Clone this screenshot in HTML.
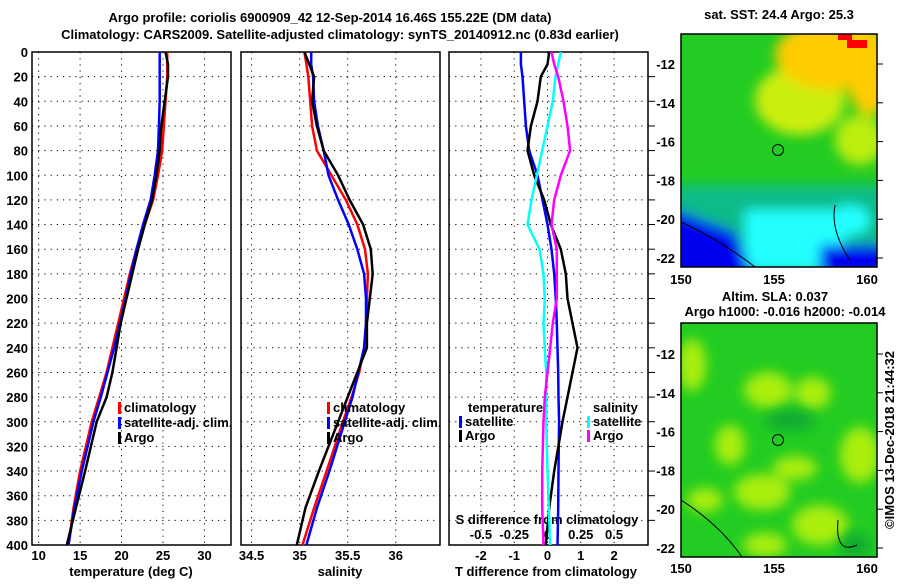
<!DOCTYPE html>
<html><head><meta charset="utf-8"><style>
body{margin:0;background:#fff;width:900px;height:580px;overflow:hidden}
svg text{font-family:"Liberation Sans",sans-serif;font-weight:bold;font-size:13px;fill:#000}
</style></head><body>
<svg id="c" width="900" height="580">
<defs>
<filter id="bl" x="-20%" y="-20%" width="140%" height="140%"><feGaussianBlur stdDeviation="6"/></filter>
<clipPath id="m1c"><rect x="681" y="34" width="196" height="233"/></clipPath>
<clipPath id="m2c"><rect x="681" y="323" width="196" height="234"/></clipPath>
</defs>
<text x="330" y="22" text-anchor="middle" font-size="14">Argo profile: coriolis 6900909_42 12-Sep-2014 16.46S 155.22E (DM data)</text>
<text x="340" y="39" text-anchor="middle" font-size="14">Climatology: CARS2009. Satellite-adjusted climatology: synTS_20140912.nc (0.83d earlier)</text>
<g id="maps">
<g clip-path="url(#m1c)">
<rect x="681" y="34" width="196" height="233" fill="#22cc22"/>
<g filter="url(#bl)">
<ellipse cx="800" cy="100" rx="45" ry="35" fill="#ccee11"/>
<ellipse cx="860" cy="140" rx="25" ry="25" fill="#bbee11"/>
<ellipse cx="835" cy="55" rx="60" ry="35" fill="#ffcc00"/>
<ellipse cx="870" cy="90" rx="20" ry="25" fill="#ffcc00"/>
<rect x="670" y="185" width="220" height="90" fill="#11bb88"/>
<rect x="745" y="210" width="100" height="60" fill="#22ffff"/>
<ellipse cx="850" cy="220" rx="20" ry="15" fill="#22ffff"/>
<polygon points="670,208 735,232 755,280 670,280" fill="#0000ee"/>
<rect x="820" y="245" width="70" height="30" fill="#0000ee"/>
</g>
<rect x="838" y="34" width="14" height="6" fill="#ff0000"/>
<rect x="847" y="40" width="20" height="8" fill="#ff0000"/>
<path d="M681,222 Q720,240 755,267 M835,205 Q830,230 850,260" stroke="#000" fill="none"/>
<circle cx="778" cy="150" r="5.5" fill="none" stroke="#000"/>
</g>
<rect x="681" y="34" width="196" height="233" fill="none" stroke="#000" stroke-width="1.5"/>
<g clip-path="url(#m2c)">
<rect x="681" y="323" width="196" height="234" fill="#22cc22"/>
<g filter="url(#bl)" fill="#aaee11">
<ellipse cx="692" cy="365" rx="14" ry="26"/>
<ellipse cx="768" cy="390" rx="24" ry="18"/>
<ellipse cx="813" cy="393" rx="18" ry="16"/>
<ellipse cx="860" cy="455" rx="20" ry="28"/>
<ellipse cx="762" cy="492" rx="28" ry="18"/>
<ellipse cx="820" cy="525" rx="28" ry="20"/>
<ellipse cx="795" cy="468" rx="22" ry="12"/>
<ellipse cx="765" cy="545" rx="22" ry="12"/>
<ellipse cx="705" cy="500" rx="18" ry="12"/>
<ellipse cx="730" cy="445" rx="15" ry="20"/>
</g>
<g filter="url(#bl)" fill="#11aa33"><ellipse cx="855" cy="545" rx="15" ry="12"/><ellipse cx="790" cy="420" rx="25" ry="10"/></g>
<path d="M681,500 Q720,525 742,557 M838,520 Q835,555 857,545" stroke="#000" fill="none"/>
<circle cx="778" cy="440" r="5.5" fill="none" stroke="#000"/>
</g>
<rect x="681" y="323" width="196" height="234" fill="none" stroke="#000" stroke-width="1.5"/>
<text x="779" y="19" text-anchor="middle" font-size="12">sat. SST: 24.4 Argo: 25.3</text>
<text x="775" y="301" text-anchor="middle" font-size="12">Altim. SLA: 0.037</text>
<text x="785" y="316" text-anchor="middle" font-size="12">Argo h1000: -0.016 h2000: -0.014</text>
<text transform="translate(894,440) rotate(-90)" text-anchor="middle" font-size="12" font-weight="normal">©IMOS 13-Dec-2018 21:44:32</text>
</g>
</svg>
<script>
const depths=[0,10,20,40,60,80,100,120,140,160,180,200,220,240,260,280,300,340,370,400];
const tArgo=[25.3,25.6,25.6,25.2,24.8,24.6,24.2,23.7,22.8,22.0,21.3,20.6,19.9,19.4,18.9,18.2,17.0,15.6,14.5,13.4];
const tClim=[25.5,25.5,25.5,25.3,25.1,24.9,24.4,23.8,22.8,21.8,21.0,20.3,19.6,18.9,18.2,17.3,16.4,15.0,14.2,13.6];
const tSat=[24.6,24.6,24.6,24.6,24.5,24.4,24.0,23.5,22.6,21.8,21.1,20.5,19.8,19.1,18.3,17.5,16.6,15.2,14.3,13.6];
const sArgo=[35.05,35.1,35.15,35.13,35.18,35.25,35.4,35.52,35.66,35.74,35.76,35.73,35.7,35.7,35.6,35.5,35.4,35.2,35.06,34.97];
const sClim=[35.05,35.07,35.09,35.11,35.13,35.18,35.33,35.48,35.6,35.68,35.71,35.7,35.69,35.67,35.62,35.54,35.45,35.28,35.15,35.03];
const sSat=[35.12,35.12,35.14,35.15,35.19,35.25,35.3,35.4,35.51,35.6,35.67,35.69,35.69,35.67,35.61,35.55,35.47,35.31,35.18,35.07];
const dtSat=[-0.8,-0.8,-0.75,-0.7,-0.65,-0.55,-0.3,-0.15,0.0,0.12,0.2,0.25,0.28,0.3,0.32,0.33,0.35,0.33,0.32,0.3];
const dtArgo=[0.05,0.0,-0.2,-0.3,-0.5,-0.6,-0.4,-0.1,0.1,0.4,0.55,0.6,0.75,0.9,0.75,0.6,0.45,0.2,0.05,-0.05];
const dsSat=[0.1,0.08,0.06,0.04,0.0,-0.04,-0.08,-0.12,-0.15,-0.06,-0.03,-0.02,-0.03,-0.02,-0.01,-0.01,-0.01,0.0,0.01,0.02];
const dsArgo=[0.03,0.05,0.08,0.12,0.15,0.17,0.1,0.05,0.03,0.07,0.07,0.07,0.04,0.02,0.0,-0.02,-0.03,-0.04,-0.04,-0.03];
const depthTicks=[0,20,40,60,80,100,120,140,160,180,200,220,240,260,280,300,320,340,360,380,400];
const tTicks=[10,15,20,25,30];
const sTicks=[34.5,35,35.5,36];
const dtTicks=[-2,-1,0,1,2];
const dsTicks=[-0.5,-0.25,0,0.25,0.5];
const latTicks=[-12,-14,-16,-18,-20,-22];
const lonTicks=[150,155,160];

const NS='http://www.w3.org/2000/svg';
const svg=document.getElementById('c');
function mk(tag,attrs,parent){const e=document.createElementNS(NS,tag);for(const k in attrs)e.setAttribute(k,attrs[k]);(parent||svg).appendChild(e);return e;}
const Y0=52,Y1=545;
const yD=d=>Y0+(d/400)*(Y1-Y0);
const panels=[{x0:32,x1:231,v0:9.2,v1:33.2},{x0:241,x1:440,v0:34.39,v1:36.46},{x0:449,x1:648,v0:-2.96,v1:3.02}];
const sx=(p,v)=>p.x0+(v-p.v0)/(p.v1-p.v0)*(p.x1-p.x0);
const sxS=v=>sx(panels[2],v*4);

panels.forEach((p,i)=>{
  const g=mk('g',{});
  
  
  const xt=i==0?tTicks:i==1?sTicks:dtTicks;
  depthTicks.forEach(d=>{
    if(d>0&&d<400){const l=mk('line',{x1:p.x0,x2:p.x1,y1:yD(d),y2:yD(d),stroke:'#000','stroke-dasharray':'1.2,5'},g);
    }
  });
  xt.forEach(v=>{const x=sx(p,v);const l=mk('line',{x1:x,x2:x,y1:Y0,y2:Y1,stroke:'#000','stroke-dasharray':'1.2,5'},g);
    
    const t=mk('text',{x:x,y:560,'text-anchor':'middle'},g);t.textContent=v;
    });
  const r=mk('rect',{x:p.x0,y:Y0,width:p.x1-p.x0,height:Y1-Y0,fill:'none',stroke:'#000','stroke-width':1.5},g);
  
});
depthTicks.forEach(d=>{const t=mk('text',{x:28,y:yD(d)+5,'text-anchor':'end'});t.textContent=d;
  
  if(d>0&&d<400){const l=mk('line',{x1:648,x2:655,y1:yD(d),y2:yD(d),stroke:'#000'});
  }});
dsTicks.forEach(v=>{const t=mk('text',{x:sxS(v),y:539,'text-anchor':'middle'});t.textContent=v;
  });
[['temperature (deg C)',131,'x-axis-title-temperature'],['salinity',340,'x-axis-title-salinity'],['T difference from climatology',546,'x-axis-title-t-diff']].forEach(a=>{
  const t=mk('text',{x:a[1],y:576,'text-anchor':'middle'});t.textContent=a[0];
  });
const st=mk('text',{x:547,y:524,'text-anchor':'middle'});st.textContent='S difference from climatology';


function line(vals,fx,col,name){
  const pts=vals.map((v,i)=>fx(v).toFixed(1)+','+yD(depths[i]).toFixed(1)).join(' ');
  const l=mk('polyline',{points:pts,fill:'none',stroke:col,'stroke-width':2.5});
  
  
}
line(tClim,v=>sx(panels[0],v),'#ff0000','temp-climatology-line');
line(tSat,v=>sx(panels[0],v),'#0000ff','temp-satellite-line');
line(tArgo,v=>sx(panels[0],v),'#000','temp-argo-line');
line(sClim,v=>sx(panels[1],v),'#ff0000','sal-climatology-line');
line(sSat,v=>sx(panels[1],v),'#0000ff','sal-satellite-line');
line(sArgo,v=>sx(panels[1],v),'#000','sal-argo-line');
line(dtSat,v=>sx(panels[2],v),'#0000ff','tdiff-satellite-line');
line(dtArgo,v=>sx(panels[2],v),'#000','tdiff-argo-line');
line(dsSat,sxS,'#00ffff','sdiff-satellite-line');
line(dsArgo,sxS,'#ff00ff','sdiff-argo-line');

function legend(x,y,col,label){
  if(col){const m=mk('rect',{x:x,y:y-10,width:3,height:12,fill:col});
  }
  const t=mk('text',{x:x+6,y:y});t.textContent=label;
  
}
legend(118,412,'#ff0000','climatology');legend(118,427,'#0000ff','satellite-adj. clim.');legend(118,442,'#000','Argo');
legend(327,412,'#ff0000','climatology');legend(327,427,'#0000ff','satellite-adj. clim.');legend(327,442,'#000','Argo');
legend(462,412,null,'temperature');legend(459,426,'#0000ff','satellite');legend(459,440,'#000','Argo');
legend(587,412,null,'salinity');legend(587,426,'#00ffff','satellite');legend(587,440,'#ff00ff','Argo');

[[34,64,'sst'],[323,354,'sla']].forEach(m=>{
  const top=m[0],y12=m[1],bot=top+233;
  latTicks.forEach(la=>{const y=y12+(-12-la)*19.4;
    const t=mk('text',{x:675,y:y+5,'text-anchor':'end'});t.textContent=la;
    
    const l=mk('line',{x1:877,x2:883,y1:y,y2:y,stroke:'#000'});
    });
  lonTicks.forEach(lo=>{const x=681+(lo-150)*18.6;
    const t=mk('text',{x:x,y:bot+17,'text-anchor':'middle'});t.textContent=lo;
    });
});
</script>
</body></html>
